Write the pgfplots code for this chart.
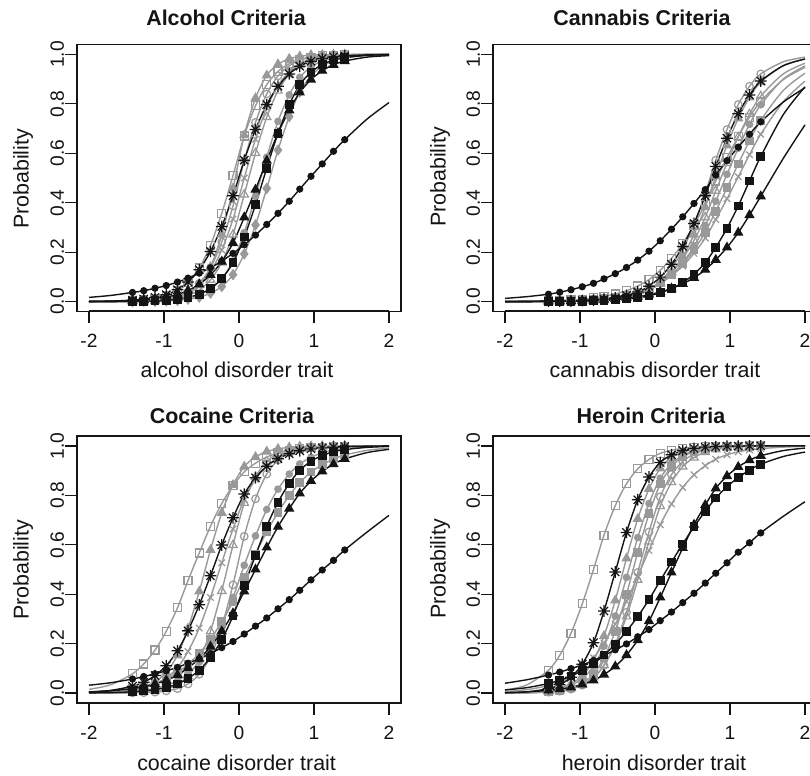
\documentclass[border=0pt]{standalone}
\usepackage{pgfplots}
\pgfplotsset{compat=1.18}
\usepackage{pgfplotstable}
\usepackage{fontspec}
\setmainfont{Liberation Sans}
\definecolor{gc}{gray}{0.6}
\definecolor{kc}{gray}{0.08}
\newcommand\titfont{\fontsize{10.7}{12}\selectfont\bfseries}
\newcommand\labfont{\fontsize{10.7}{12}\selectfont}
\newcommand\tickfont{\fontsize{9.6}{10}\selectfont}
\pgfdeclareplotmark{ast8}{%
 \pgfpathmoveto{\pgfqpoint{-\pgfplotmarksize}{0pt}}\pgfpathlineto{\pgfqpoint{\pgfplotmarksize}{0pt}}%
 \pgfpathmoveto{\pgfqpoint{0pt}{-\pgfplotmarksize}}\pgfpathlineto{\pgfqpoint{0pt}{\pgfplotmarksize}}%
 \pgfpathmoveto{\pgfqpoint{-.707\pgfplotmarksize}{-.707\pgfplotmarksize}}\pgfpathlineto{\pgfqpoint{.707\pgfplotmarksize}{.707\pgfplotmarksize}}%
 \pgfpathmoveto{\pgfqpoint{-.707\pgfplotmarksize}{.707\pgfplotmarksize}}\pgfpathlineto{\pgfqpoint{.707\pgfplotmarksize}{-.707\pgfplotmarksize}}%
 \pgfusepathqstroke}
\pgfplotsset{
  panel/.style={scale only axis, width=162pt, height=133.5pt, anchor=south west,
    xmin=-2.16, xmax=2.16, ymin=-0.04, ymax=1.04, clip=false,
    axis line style={line width=0.65pt, kc},
    tick align=outside, tick pos=left, major tick length=6pt,
    major tick style={line width=0.65pt, kc},
    xtick={-2,-1,0,1,2}, xticklabels={-2,-1,0,1,2},
    ytick={0,0.2,0.4,0.6,0.8,1}, yticklabels={0.0,0.2,0.4,0.6,0.8,1.0},
    ticklabel style={font=\tickfont, text=kc, inner sep=0pt},
    xticklabel shift=5.2pt,
    yticklabel style={rotate=90, anchor=south}, yticklabel shift=0.3pt},
  blk/.style={kc, line width=0.7pt, smooth},
  gry/.style={gc, line width=0.7pt, smooth},
  mk/.style={only marks, restrict x to domain=-1.45:1.45, mark options={solid, line width=0.6pt}},
}
\newcommand{\crv}[4]{\addplot[#1] table[x=x,y=#3]{#2};\addplot[#1,mk,#4] table[x=x,y=#3]{#2};}

% Alcohol
\pgfplotstableread{
x k1 k2 k3 k4 g1 g2 g3 g4 g5 g6 g7
-2.00 0.017 0.001 0.000 0.001 0.000 0 0 0 0 0 0
-1.71 0.025 0.002 0.000 0.002 0.001 0 0 0 0 0 0
-1.42 0.037 0.006 0.001 0.004 0.004 0.001 0.001 0.002 0.001 0.001 0
-1.27 0.044 0.010 0.002 0.007 0.007 0.001 0.003 0.003 0.002 0.001 0.001
-1.12 0.054 0.017 0.003 0.011 0.012 0.003 0.005 0.005 0.003 0.002 0.001
-0.97 0.065 0.028 0.005 0.018 0.023 0.006 0.010 0.010 0.006 0.004 0.003
-0.82 0.079 0.048 0.009 0.029 0.043 0.014 0.020 0.020 0.012 0.008 0.005
-0.68 0.095 0.079 0.017 0.045 0.077 0.030 0.038 0.037 0.024 0.015 0.010
-0.53 0.115 0.129 0.030 0.070 0.136 0.067 0.074 0.068 0.047 0.027 0.018
-0.38 0.137 0.203 0.053 0.108 0.228 0.140 0.137 0.121 0.088 0.051 0.034
-0.23 0.164 0.304 0.093 0.162 0.357 0.271 0.241 0.209 0.158 0.093 0.061
-0.08 0.195 0.428 0.157 0.237 0.510 0.458 0.387 0.334 0.271 0.164 0.109
0.07 0.230 0.572 0.261 0.341 0.670 0.673 0.570 0.500 0.433 0.279 0.193
0.22 0.269 0.696 0.392 0.453 0.792 0.823 0.725 0.657 0.601 0.426 0.310
0.37 0.312 0.797 0.540 0.570 0.878 0.915 0.840 0.784 0.746 0.584 0.458
0.52 0.357 0.871 0.681 0.681 0.931 0.960 0.913 0.874 0.853 0.729 0.613
0.67 0.406 0.921 0.796 0.774 0.962 0.982 0.954 0.930 0.919 0.836 0.748
0.81 0.455 0.952 0.877 0.846 0.979 0.992 0.977 0.962 0.957 0.907 0.848
0.96 0.507 0.972 0.928 0.898 0.989 0.997 0.988 0.980 0.978 0.949 0.913
1.11 0.557 0.983 0.959 0.934 0.994 0.998 0.994 0.989 0.989 0.973 0.952
1.26 0.608 0.990 0.977 0.958 0.997 0.999 0.997 0.994 0.994 0.985 0.974
1.41 0.655 0.994 0.987 0.973 0.998 1.000 0.998 0.997 0.997 0.992 0.986
1.71 0.739 0.998 0.996 0.989 1.000 1.000 1.000 0.999 0.999 0.998 0.996
2.00 0.805 0.999 0.999 0.995 1.000 1.000 1.000 1.000 1.000 0.999 0.999
}\tA

% Cannabis
\pgfplotstableread{
x k1 k2 k3 k4 g1 g2 g3 g4 g5 g6 g7
-2.00 0.013 0 0 0 0 0 0.001 0 0 0 0.001
-1.71 0.020 0 0 0.001 0 0 0.002 0 0 0.001 0.001
-1.42 0.030 0.001 0.001 0.002 0 0 0.003 0.001 0.001 0.002 0.002
-1.27 0.038 0.001 0.001 0.002 0.001 0.001 0.005 0.001 0.002 0.002 0.003
-1.12 0.048 0.002 0.001 0.003 0.001 0.001 0.007 0.002 0.002 0.004 0.005
-0.97 0.060 0.004 0.002 0.004 0.002 0.002 0.010 0.004 0.004 0.005 0.006
-0.82 0.074 0.006 0.003 0.006 0.003 0.004 0.015 0.006 0.006 0.008 0.009
-0.68 0.092 0.010 0.005 0.008 0.006 0.006 0.021 0.009 0.009 0.011 0.013
-0.53 0.113 0.015 0.007 0.011 0.010 0.010 0.031 0.014 0.013 0.017 0.019
-0.38 0.138 0.025 0.011 0.015 0.017 0.017 0.044 0.021 0.020 0.024 0.027
-0.23 0.168 0.039 0.016 0.020 0.028 0.027 0.063 0.033 0.031 0.036 0.038
-0.08 0.204 0.062 0.023 0.028 0.048 0.045 0.089 0.050 0.047 0.052 0.053
0.07 0.246 0.099 0.036 0.039 0.082 0.074 0.127 0.079 0.072 0.076 0.076
0.22 0.293 0.151 0.053 0.053 0.134 0.118 0.175 0.118 0.107 0.108 0.105
0.37 0.343 0.223 0.077 0.072 0.209 0.182 0.235 0.174 0.157 0.152 0.144
0.52 0.397 0.316 0.111 0.096 0.312 0.271 0.310 0.248 0.223 0.209 0.195
0.67 0.453 0.428 0.158 0.129 0.438 0.382 0.394 0.341 0.308 0.281 0.257
0.81 0.512 0.547 0.219 0.169 0.572 0.507 0.488 0.448 0.406 0.366 0.332
0.96 0.570 0.661 0.297 0.219 0.696 0.632 0.582 0.560 0.515 0.460 0.416
1.11 0.625 0.760 0.387 0.279 0.797 0.741 0.668 0.666 0.620 0.557 0.505
1.26 0.677 0.836 0.488 0.350 0.871 0.826 0.746 0.758 0.717 0.650 0.594
1.41 0.727 0.892 0.587 0.426 0.921 0.888 0.810 0.831 0.796 0.733 0.677
1.71 0.807 0.954 0.756 0.579 0.970 0.955 0.898 0.921 0.900 0.854 0.808
2.00 0.865 0.981 0.869 0.715 0.989 0.982 0.947 0.964 0.953 0.924 0.892
}\tB

% Cocaine
\pgfplotstableread{
x k1 k2 k3 k4 g1 g2 g3 g4 g5 g6 g7
-2.00 0.032 0.004 0.001 0.005 0.015 0.001 0.001 0 0 0.001 0.005
-1.71 0.042 0.011 0.002 0.009 0.034 0.003 0.004 0 0 0.003 0.010
-1.42 0.057 0.028 0.005 0.018 0.078 0.012 0.011 0.002 0.001 0.007 0.020
-1.27 0.067 0.044 0.009 0.026 0.118 0.023 0.020 0.004 0.002 0.012 0.028
-1.12 0.078 0.071 0.014 0.037 0.174 0.045 0.035 0.008 0.004 0.019 0.041
-0.97 0.090 0.111 0.023 0.052 0.250 0.084 0.061 0.016 0.009 0.031 0.058
-0.82 0.104 0.171 0.037 0.073 0.345 0.153 0.102 0.034 0.018 0.050 0.083
-0.68 0.121 0.252 0.059 0.102 0.455 0.261 0.168 0.069 0.037 0.080 0.116
-0.53 0.139 0.357 0.093 0.139 0.567 0.411 0.263 0.136 0.076 0.125 0.161
-0.38 0.160 0.475 0.144 0.188 0.675 0.579 0.387 0.250 0.148 0.190 0.218
-0.23 0.184 0.599 0.216 0.250 0.767 0.729 0.527 0.413 0.269 0.277 0.289
-0.08 0.209 0.709 0.312 0.323 0.839 0.842 0.664 0.599 0.438 0.387 0.371
0.07 0.239 0.805 0.435 0.411 0.895 0.916 0.784 0.769 0.634 0.517 0.468
0.22 0.271 0.871 0.557 0.500 0.930 0.955 0.865 0.875 0.786 0.636 0.562
0.37 0.304 0.918 0.675 0.589 0.955 0.977 0.919 0.937 0.886 0.743 0.652
0.52 0.341 0.948 0.772 0.673 0.971 0.988 0.953 0.969 0.943 0.825 0.731
0.67 0.378 0.968 0.848 0.746 0.981 0.994 0.973 0.985 0.972 0.886 0.799
0.81 0.416 0.980 0.901 0.808 0.988 0.997 0.984 0.993 0.987 0.927 0.852
0.96 0.458 0.988 0.938 0.858 0.992 0.998 0.991 0.997 0.994 0.954 0.894
1.11 0.498 0.992 0.961 0.897 0.995 0.999 0.995 0.998 0.997 0.972 0.924
1.26 0.537 0.995 0.976 0.926 0.997 1.000 0.997 0.999 0.999 0.983 0.947
1.41 0.579 0.997 0.985 0.947 0.998 1.000 0.998 1.000 0.999 0.989 0.963
1.71 0.652 0.999 0.994 0.973 0.999 1.000 0.999 1.000 1.000 0.996 0.982
2.00 0.719 1.000 0.998 0.986 1.000 1.000 1.000 1.000 1.000 0.998 0.991
}\tC

% Heroin
\pgfplotstableread{
x k1 k2 k3 k4 g1 g2 g3 g4 g5 g6 g7
-2.00 0.040 0.001 0.013 0.002 0.012 0.001 0.001 0 0 0.001 0.006
-1.71 0.054 0.005 0.022 0.005 0.033 0.003 0.002 0.001 0.001 0.002 0.014
-1.42 0.073 0.018 0.039 0.011 0.093 0.009 0.009 0.005 0.004 0.005 0.030
-1.27 0.085 0.034 0.052 0.016 0.153 0.019 0.016 0.010 0.008 0.010 0.045
-1.12 0.099 0.064 0.069 0.023 0.242 0.037 0.031 0.021 0.016 0.019 0.067
-0.97 0.114 0.117 0.091 0.035 0.361 0.070 0.059 0.040 0.032 0.035 0.099
-0.82 0.132 0.204 0.119 0.051 0.500 0.131 0.108 0.077 0.060 0.064 0.143
-0.68 0.152 0.332 0.154 0.075 0.639 0.231 0.190 0.143 0.112 0.113 0.203
-0.53 0.175 0.490 0.198 0.108 0.758 0.375 0.312 0.250 0.198 0.193 0.279
-0.38 0.199 0.650 0.250 0.154 0.847 0.545 0.468 0.399 0.327 0.310 0.371
-0.23 0.228 0.782 0.310 0.214 0.907 0.705 0.629 0.570 0.488 0.458 0.473
-0.08 0.257 0.874 0.378 0.291 0.945 0.826 0.767 0.725 0.652 0.613 0.577
0.07 0.293 0.933 0.455 0.387 0.970 0.909 0.869 0.846 0.794 0.756 0.681
0.22 0.328 0.964 0.530 0.488 0.982 0.952 0.928 0.916 0.884 0.853 0.765
0.37 0.366 0.981 0.603 0.587 0.990 0.975 0.961 0.956 0.937 0.916 0.832
0.52 0.404 0.990 0.673 0.681 0.994 0.987 0.980 0.977 0.967 0.953 0.883
0.67 0.445 0.995 0.735 0.761 0.997 0.994 0.989 0.989 0.983 0.975 0.920
0.81 0.485 0.997 0.789 0.828 0.998 0.997 0.994 0.994 0.991 0.986 0.946
0.96 0.527 0.999 0.835 0.878 0.999 0.998 0.997 0.997 0.996 0.993 0.964
1.11 0.570 0.999 0.872 0.915 0.999 0.999 0.998 0.998 0.998 0.996 0.976
1.26 0.608 1.000 0.902 0.942 1.000 1.000 0.999 0.999 0.999 0.998 0.984
1.41 0.648 1.000 0.926 0.960 1.000 1.000 1.000 1.000 0.999 0.999 0.989
1.71 0.715 1.000 0.957 0.981 1.000 1.000 1.000 1.000 1.000 1.000 0.995
2.00 0.774 1.000 0.975 0.991 1.000 1.000 1.000 1.000 1.000 1.000 0.998
}\tD

\begin{document}
\begin{tikzpicture}
\useasboundingbox (0,0) rectangle (405pt,388pt);
\clip (0,0) rectangle (405pt,388pt);

% ---------- Alcohol ----------
\begin{axis}[panel, at={(38.5pt,232.25pt)}]
\crv{gry}{\tA}{g1}{mark=square, mark size=2pt}
\crv{gry}{\tA}{g2}{mark=triangle*, mark size=2.4pt}
\crv{gry}{\tA}{g3}{mark=o, mark size=1.9pt}
\crv{gry}{\tA}{g4}{mark=x, mark size=2.3pt}
\crv{gry}{\tA}{g5}{mark=triangle, mark size=2.4pt}
\crv{gry}{\tA}{g6}{mark=*, mark size=1.6pt}
\crv{gry}{\tA}{g7}{mark=diamond*, mark size=2.4pt}
\crv{blk}{\tA}{k1}{mark=*, mark size=1.5pt}
\crv{blk}{\tA}{k2}{mark=ast8, mark size=2.9pt}
\crv{blk}{\tA}{k3}{mark=square*, mark size=1.9pt}
\crv{blk}{\tA}{k4}{mark=triangle*, mark size=2.4pt}
\draw[kc, line width=1pt] (-2,-0.04) -- (2,-0.04);
\draw[kc, line width=1pt] (-2.16,0) -- (-2.16,1);
\end{axis}

% ---------- Cannabis ----------
\begin{axis}[panel, at={(246.5pt,232.25pt)}]
\crv{gry}{\tB}{g1}{mark=o, mark size=1.9pt}
\crv{gry}{\tB}{g2}{mark=triangle*, mark size=2.4pt}
\crv{gry}{\tB}{g3}{mark=square, mark size=2pt}
\crv{gry}{\tB}{g4}{mark=triangle, mark size=2.4pt}
\crv{gry}{\tB}{g5}{mark=*, mark size=1.6pt}
\crv{gry}{\tB}{g6}{mark=square*, mark size=1.9pt}
\crv{gry}{\tB}{g7}{mark=x, mark size=2.3pt}
\crv{blk}{\tB}{k1}{mark=*, mark size=1.5pt}
\crv{blk}{\tB}{k2}{mark=ast8, mark size=2.9pt}
\crv{blk}{\tB}{k3}{mark=square*, mark size=1.9pt}
\crv{blk}{\tB}{k4}{mark=triangle*, mark size=2.4pt}
\draw[kc, line width=1pt] (-2,-0.04) -- (2,-0.04);
\draw[kc, line width=1pt] (-2.16,0) -- (-2.16,1);
\end{axis}

% ---------- Cocaine ----------
\begin{axis}[panel, at={(38.5pt,36.5pt)}]
\crv{gry}{\tC}{g1}{mark=square, mark size=2pt}
\crv{gry}{\tC}{g2}{mark=triangle*, mark size=2.4pt}
\crv{gry}{\tC}{g3}{mark=x, mark size=2.3pt}
\crv{gry}{\tC}{g4}{mark=triangle, mark size=2.4pt}
\crv{gry}{\tC}{g5}{mark=o, mark size=1.9pt}
\crv{gry}{\tC}{g6}{mark=*, mark size=1.6pt}
\crv{gry}{\tC}{g7}{mark=square*, mark size=1.9pt}
\crv{blk}{\tC}{k1}{mark=*, mark size=1.5pt}
\crv{blk}{\tC}{k2}{mark=ast8, mark size=2.9pt}
\crv{blk}{\tC}{k3}{mark=square*, mark size=1.9pt}
\crv{blk}{\tC}{k4}{mark=triangle*, mark size=2.4pt}
\draw[kc, line width=1pt] (-2,-0.04) -- (2,-0.04);
\draw[kc, line width=1pt] (-2.16,0) -- (-2.16,1);
\end{axis}

% ---------- Heroin ----------
\begin{axis}[panel, at={(246.5pt,36.5pt)}]
\crv{gry}{\tD}{g1}{mark=square, mark size=2pt}
\crv{gry}{\tD}{g2}{mark=triangle*, mark size=2.4pt}
\crv{gry}{\tD}{g3}{mark=*, mark size=1.6pt}
\crv{gry}{\tD}{g4}{mark=square*, mark size=1.9pt}
\crv{gry}{\tD}{g5}{mark=o, mark size=1.9pt}
\crv{gry}{\tD}{g6}{mark=triangle, mark size=2.4pt}
\crv{gry}{\tD}{g7}{mark=x, mark size=2.3pt}
\crv{blk}{\tD}{k1}{mark=*, mark size=1.5pt}
\crv{blk}{\tD}{k2}{mark=ast8, mark size=2.9pt}
\crv{blk}{\tD}{k3}{mark=square*, mark size=1.9pt}
\crv{blk}{\tD}{k4}{mark=triangle*, mark size=2.4pt}
\draw[kc, line width=1pt] (-2,-0.04) -- (2,-0.04);
\draw[kc, line width=1pt] (-2.16,0) -- (-2.16,1);
\end{axis}

% ---------- texts ----------
\node[font=\titfont, text=kc] at (113pt,379pt) {Alcohol Criteria};
\node[font=\titfont, text=kc] at (321pt,379pt) {Cannabis Criteria};
\node[font=\titfont, text=kc] at (116pt,180pt) {Cocaine Criteria};
\node[font=\titfont, text=kc] at (325.5pt,180pt) {Heroin Criteria};
\node[font=\labfont, text=kc] at (118.5pt,203pt) {alcohol disorder trait};
\node[font=\labfont, text=kc] at (327.5pt,203pt) {cannabis disorder trait};
\node[font=\labfont, text=kc] at (118.3pt,6.5pt) {cocaine disorder trait};
\node[font=\labfont, text=kc] at (327pt,6.5pt) {heroin disorder trait};
\node[font=\labfont, text=kc, rotate=90] at (11.5pt,298.5pt) {Probability};
\node[font=\labfont, text=kc, rotate=90] at (220pt,299.5pt) {Probability};
\node[font=\labfont, text=kc, rotate=90] at (11.5pt,103pt) {Probability};
\node[font=\labfont, text=kc, rotate=90] at (220pt,103.5pt) {Probability};
\end{tikzpicture}
\end{document}
